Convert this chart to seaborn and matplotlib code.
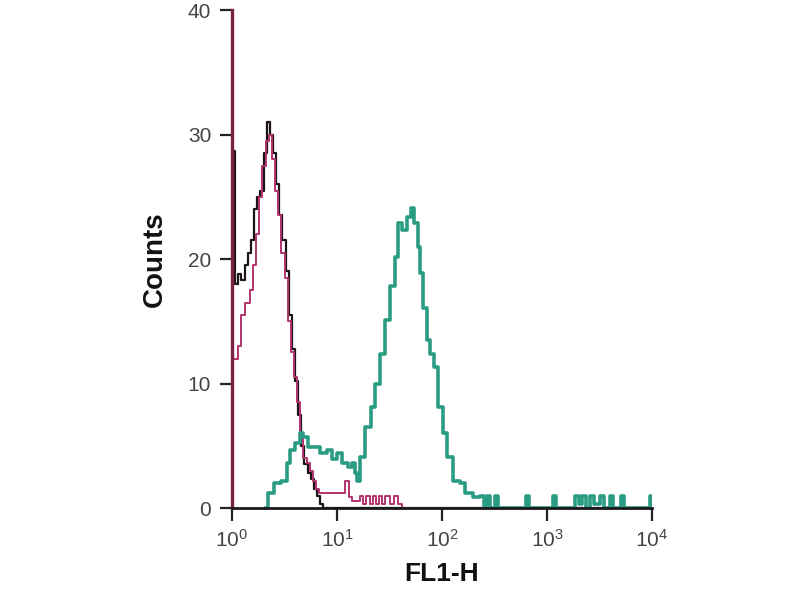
# histograma FL1-H (citometría)

import numpy as np
import pandas as pd
import matplotlib
matplotlib.use("Agg")
import matplotlib.pyplot as plt
import seaborn as sns

# posiciones en décadas (log10 de FL1-H) y cuentas
black_logx = [0.00, 0.03, 0.06, 0.09, 0.12, 0.15, 0.18, 0.21, 0.24, 0.27, 0.30, 0.33,
              0.36, 0.39, 0.42, 0.45, 0.48, 0.51, 0.54, 0.57, 0.60, 0.63, 0.66, 0.69,
              0.72, 0.75, 0.78, 0.81, 0.84, 0.87, 4.00]
black_counts = [28.7, 18.0, 18.8, 18.3, 19.5, 20.5, 21.5, 24.0, 25.0, 25.5, 28.5, 31.0,
                30.0, 28.5, 26.0, 23.5, 21.5, 19.0, 15.5, 12.8, 10.2, 7.5, 5.0, 3.5,
                2.8, 2.3, 1.5, 1.0, 0.3, 0.0, 0.0]

magenta_logx = [0.00, 0.06, 0.09, 0.12, 0.17, 0.20, 0.23, 0.26, 0.29, 0.32, 0.35, 0.38,
                0.41, 0.44, 0.47, 0.50, 0.53, 0.56, 0.59, 0.62, 0.65, 0.68, 0.71, 0.74,
                0.77, 0.80, 0.83, 0.98, 1.08, 1.11, 1.14, 1.22, 1.25, 1.28, 1.31, 1.34,
                1.37, 1.40, 1.43, 1.46, 1.50, 1.54, 1.58, 1.62, 4.00]
magenta_counts = [12.0, 13.0, 15.5, 16.5, 17.5, 19.5, 22.0, 25.0, 27.5, 29.5, 30.0, 28.0,
                  25.5, 23.5, 20.5, 18.5, 15.0, 12.5, 10.5, 8.5, 6.0, 4.0, 3.6, 3.0,
                  2.2, 1.5, 1.2, 1.2, 2.2, 0.9, 0.6, 1.0, 0.3, 1.0, 0.3, 1.0,
                  0.3, 1.0, 0.3, 1.0, 0.3, 1.0, 0.3, 0.0, 0.0]

teal_logx = [0.31, 0.34, 0.40, 0.47, 0.52, 0.55, 0.60, 0.65, 0.68, 0.72, 0.79,
             0.84, 0.90, 0.95, 1.00, 1.05, 1.10, 1.14, 1.17, 1.19, 1.22, 1.27, 1.32,
             1.36, 1.41, 1.46, 1.50, 1.55, 1.58, 1.62, 1.67, 1.70, 1.73, 1.77, 1.79,
             1.82, 1.86, 1.89, 1.92, 1.96, 2.01, 2.05, 2.10, 2.17, 2.22, 2.30, 2.36,
             2.40, 2.43, 2.46, 2.50, 2.53, 2.80, 2.83, 3.06, 3.09, 3.27, 3.30, 3.33,
             3.37, 3.41, 3.45, 3.50, 3.54, 3.60, 3.63, 3.70, 3.73, 3.98, 4.00]
teal_counts = [0.0, 1.2, 2.0, 2.2, 3.6, 4.7, 5.2, 6.0, 5.7, 4.9, 4.9,
               4.4, 4.7, 3.9, 4.4, 3.6, 3.3, 3.6, 2.8, 2.2, 4.1, 6.5, 8.1,
               10.0, 12.4, 15.1, 17.8, 20.2, 22.9, 22.3, 23.4, 24.1, 22.9, 21.0, 18.9,
               16.1, 13.5, 12.4, 11.3, 8.1, 6.0, 4.1, 2.2, 2.0, 1.2, 0.9, 1.0,
               0.0, 1.0, 0.0, 1.0, 0.0, 1.0, 0.0, 1.0, 0.0, 1.0, 0.3, 1.0,
               0.0, 1.0, 0.3, 1.0, 0.0, 1.0, 0.0, 1.0, 0.0, 1.0, 0.0]

y_ticks = [0, 10, 20, 30, 40]
x_ticks = [1, 10, 100, 1000, 10000]

sns.set_style("ticks")
plt.rcParams["font.family"] = ["Liberation Sans", "DejaVu Sans"]

fig = plt.figure(figsize=(8, 6), dpi=100)
ax = fig.add_axes([0.29, 0.1533, 0.525, 0.83])

series = [
    (black_logx, black_counts, "#1c1416", 1.6),
    (magenta_logx, magenta_counts, "#b2336e", 1.4),
    (teal_logx, teal_counts, "#2b9c84", 2.6),
]
for logx, counts, color, lw in series:
    df = pd.DataFrame({"x": 10 ** np.array(logx), "y": counts})
    sns.lineplot(data=df, x="x", y="y", drawstyle="steps-post", color=color,
                 linewidth=lw, ax=ax, errorbar=None)

ax.set_xscale("log")
ax.set_xlim(1, 10000)
ax.set_ylim(0, 40)
ax.set_xticks(x_ticks)
ax.set_yticks(y_ticks)
ax.xaxis.set_minor_locator(matplotlib.ticker.NullLocator())

sns.despine(ax=ax)
ax.spines["left"].set_color("#7a2247")
ax.spines["left"].set_linewidth(2.4)
ax.spines["bottom"].set_color("#1a1a1a")
ax.spines["bottom"].set_linewidth(2.0)
ax.tick_params(axis="both", length=9, width=1.6, color="#222222",
               labelsize=15, labelcolor="#444444", pad=6)

ax.set_xlabel("FL1-H", fontsize=19, fontweight="bold", color="#111111", labelpad=8)
ax.set_ylabel("Counts", fontsize=20, fontweight="bold", color="#111111", labelpad=14)

plt.savefig("out.png", dpi=100)
